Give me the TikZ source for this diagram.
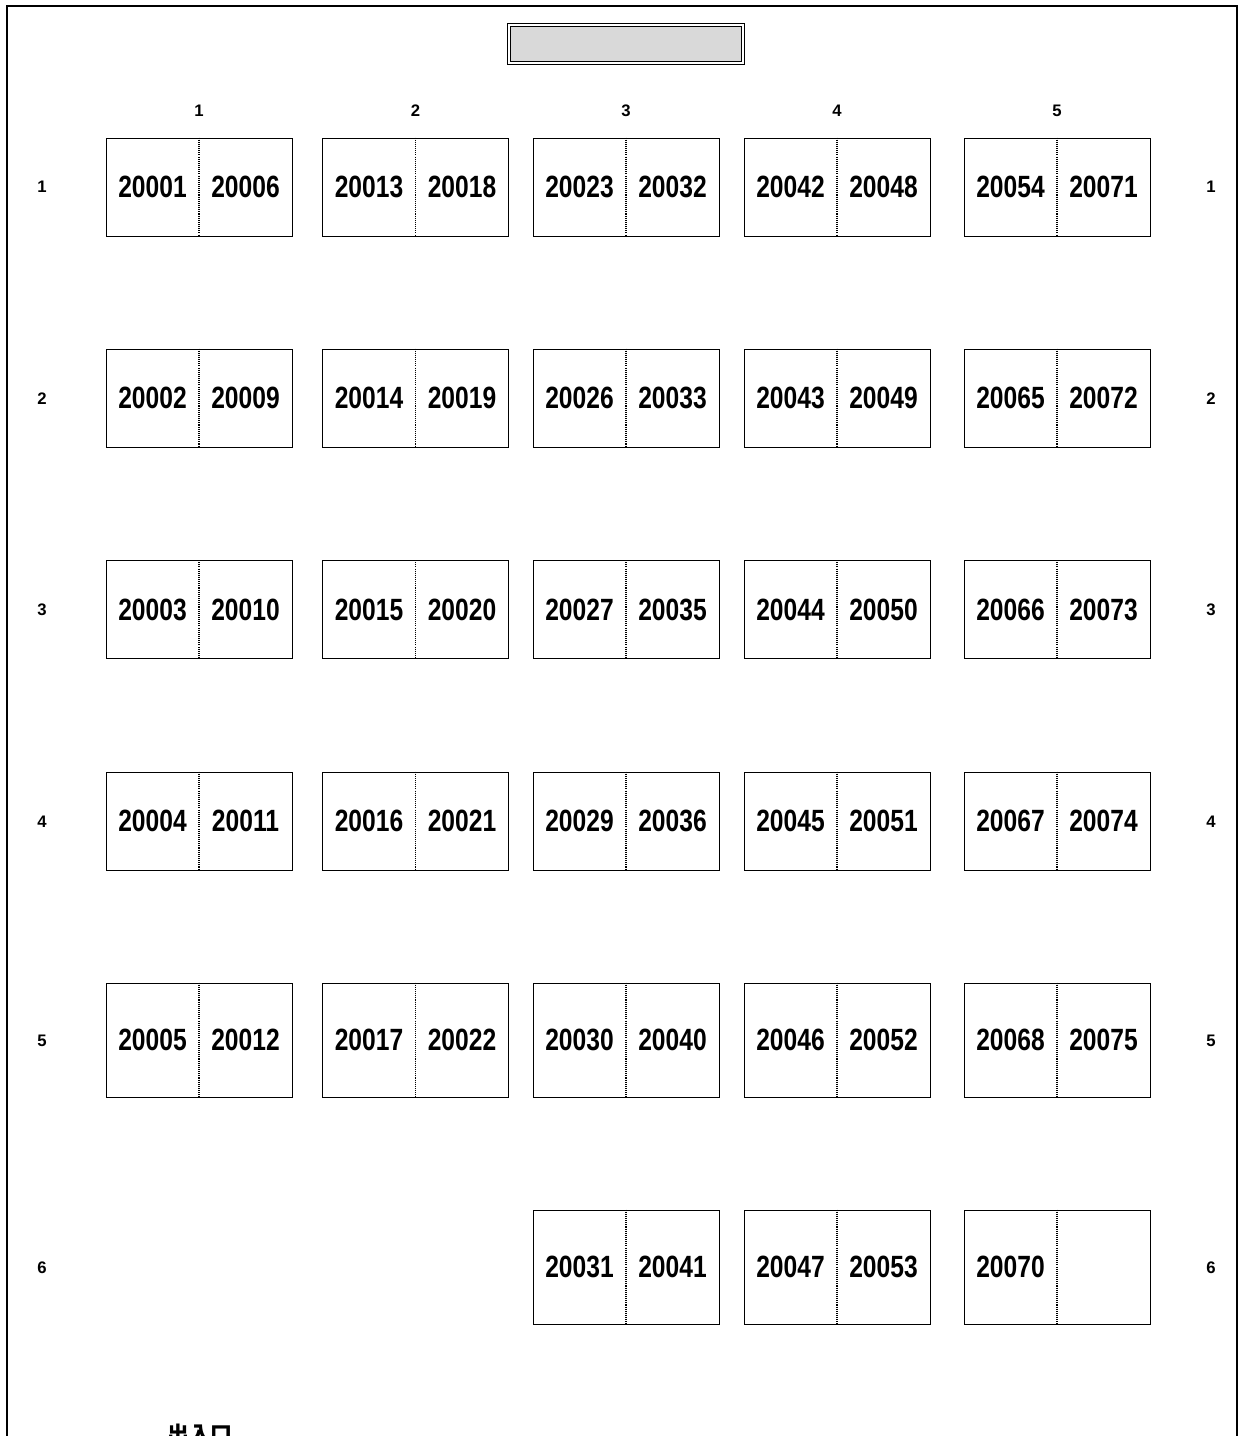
\documentclass[tikz,border=0pt]{standalone}
\usepackage{fontspec}
\setmainfont{Liberation Sans}
\newfontfamily\numfont[FakeStretch=0.80]{Liberation Sans Bold}
\newfontfamily\jpfont{Noto Sans CJK JP}
\tikzset{
  deskbox/.style={draw, line width=0.5pt, inner sep=0pt, minimum width=3.72cm},
  divider/.style={line width=0.6pt, dash pattern=on 0.6pt off 0.6pt},
  num/.style={inner sep=0pt, font=\numfont\fontsize{17.5}{20}\selectfont},
  lbl/.style={inner sep=0pt, font=\bfseries\fontsize{9.5}{11}\selectfont},
  frame/.style={line width=1.2pt},
}
\newcommand{\desk}[6]{%
  \node[deskbox, minimum height=#4] (#1) at (#2,#3) {};
  \draw[divider] (#1.north) -- (#1.south);
  \node[num] (#1l) at ({#2-46.5},#3) {#5};
  \node[num] (#1r) at ({#2+46.5},#3) {#6};
}
\begin{document}
\begin{tikzpicture}[x=0.02cm,y=-0.02cm]
\useasboundingbox (0,0) rectangle (1239,1436);
\clip (0,0) rectangle (1239,1436);
% outer frame
\coordinate (fbl) at (7,1445);
\coordinate (ftl) at (7,6);
\coordinate (ftr) at (1237,6);
\coordinate (fbr) at (1237,1445);
\draw[frame] (fbl) -- (ftl) -- (ftr) -- (fbr);
% screen
\node[draw, double, line width=0.5pt, double distance=1.2pt, fill=gray!30, inner sep=0pt,
      minimum width=4.68cm, minimum height=0.76cm] (screen) at (626,44) {};
% column labels
\node[lbl] (c1) at (199,111) {1};
\node[lbl] (c2) at (415.5,111) {2};
\node[lbl] (c3) at (626,111) {3};
\node[lbl] (c4) at (837,111) {4};
\node[lbl] (c5) at (1057,111) {5};
% row labels
\node[lbl] (rl1) at (42,187) {1};     \node[lbl] (rr1) at (1211,187) {1};
\node[lbl] (rl2) at (42,399) {2};     \node[lbl] (rr2) at (1211,399) {2};
\node[lbl] (rl3) at (42,610) {3};     \node[lbl] (rr3) at (1211,610) {3};
\node[lbl] (rl4) at (42,822) {4};     \node[lbl] (rr4) at (1211,822) {4};
\node[lbl] (rl5) at (42,1041) {5};    \node[lbl] (rr5) at (1211,1041) {5};
\node[lbl] (rl6) at (42,1268) {6};    \node[lbl] (rr6) at (1211,1268) {6};
% row 1
\desk{d11}{199}{187}{1.96cm}{20001}{20006}
\desk{d12}{415.5}{187}{1.96cm}{20013}{20018}
\desk{d13}{626}{187}{1.96cm}{20023}{20032}
\desk{d14}{837}{187}{1.96cm}{20042}{20048}
\desk{d15}{1057}{187}{1.96cm}{20054}{20071}
% row 2
\desk{d21}{199}{398}{1.96cm}{20002}{20009}
\desk{d22}{415.5}{398}{1.96cm}{20014}{20019}
\desk{d23}{626}{398}{1.96cm}{20026}{20033}
\desk{d24}{837}{398}{1.96cm}{20043}{20049}
\desk{d25}{1057}{398}{1.96cm}{20065}{20072}
% row 3
\desk{d31}{199}{609.5}{1.96cm}{20003}{20010}
\desk{d32}{415.5}{609.5}{1.96cm}{20015}{20020}
\desk{d33}{626}{609.5}{1.96cm}{20027}{20035}
\desk{d34}{837}{609.5}{1.96cm}{20044}{20050}
\desk{d35}{1057}{609.5}{1.96cm}{20066}{20073}
% row 4
\desk{d41}{199}{821}{1.96cm}{20004}{20011}
\desk{d42}{415.5}{821}{1.96cm}{20016}{20021}
\desk{d43}{626}{821}{1.96cm}{20029}{20036}
\desk{d44}{837}{821}{1.96cm}{20045}{20051}
\desk{d45}{1057}{821}{1.96cm}{20067}{20074}
% row 5
\desk{d51}{199}{1040}{2.28cm}{20005}{20012}
\desk{d52}{415.5}{1040}{2.28cm}{20017}{20022}
\desk{d53}{626}{1040}{2.28cm}{20030}{20040}
\desk{d54}{837}{1040}{2.28cm}{20046}{20052}
\desk{d55}{1057}{1040}{2.28cm}{20068}{20075}
% row 6
\desk{d63}{626}{1267}{2.28cm}{20031}{20041}
\desk{d64}{837}{1267}{2.28cm}{20047}{20053}
\desk{d65}{1057}{1267}{2.28cm}{20070}{}
% entrance (cut by the lower edge, as in the reference)
\node[inner sep=0pt, font=\jpfont\bfseries\fontsize{12.5}{14}\selectfont] (entrance) at (200,1434) {出入口};
\end{tikzpicture}
\end{document}
